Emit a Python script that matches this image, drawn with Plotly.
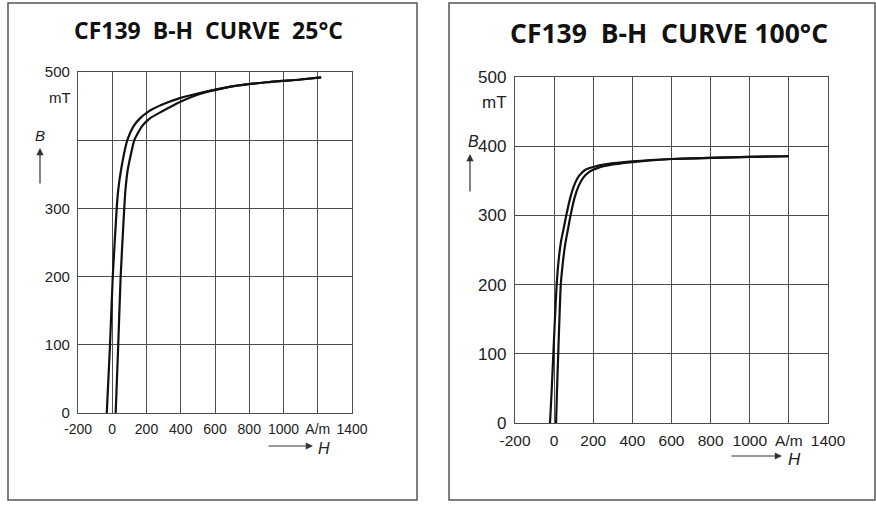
import plotly.graph_objects as go

W, H = 876, 505

# ---------------- data ----------------
# 25 °C loop: upper (left, descending) branch and lower (right, ascending) branch
H25_upper = [-32, -13, 3, 26, 35, 51, 88, 123, 162, 211, 289, 386, 542, 700, 900, 1100, 1220]
B25_upper = [0, 100, 200, 300, 327, 356, 400, 420, 432, 442, 452, 461, 471, 479, 485, 489, 492]
H25_lower = [20, 35, 49, 70, 77, 90, 129, 172, 220, 289, 386, 520, 700, 900, 1100, 1220]
B25_lower = [0, 100, 200, 300, 327, 356, 400, 420, 432, 442, 455, 468.5, 479, 485, 489, 492]

# 100 °C loop
H100_upper = [-21, -12, -4, 4, 13, 23, 35, 50, 62, 82, 102, 127, 160, 200, 269, 400, 600, 800, 1000, 1200]
B100_upper = [0, 50, 100, 150, 200, 235, 262, 283, 300, 325, 343, 357, 366, 370, 374, 378, 381.5, 383, 384.5, 385.5]
H100_lower = [10, 15, 21, 27, 34, 44, 56, 70, 84, 104, 126, 150, 180, 218, 300, 450, 600, 800, 1000, 1200]
B100_lower = [0, 50, 100, 150, 200, 230, 257, 279, 300, 325, 343, 355, 363, 368, 373.5, 378.5, 381.5, 383, 384.5, 385.5]

x_tickvals = [-200, 0, 200, 400, 600, 800, 1000, 1200, 1400]
x_ticktext = ["-200", "0", "200", "400", "600", "800", "1000", "A/m", "1400"]
y_tickvals = [0, 100, 200, 300, 400, 500]
y_ticktext_25 = ["0", "100", "200", "300", "", "500"]
y_ticktext_100 = ["0", "100", "200", "300", "400", "500"]

titles = ["CF139\u00a0\u00a0B-H\u00a0\u00a0CURVE\u00a0\u00a025°C",
          "CF139\u00a0\u00a0B-H\u00a0\u00a0CURVE\u00a0100°C"]


def px(x):
    return x / W


def py(y):
    return 1 - y / H


fig = go.Figure()

line_style = dict(color="#111111", width=2.2, shape="spline", smoothing=0.5)
fig.add_trace(go.Scatter(x=H25_upper, y=B25_upper, mode="lines", line=line_style,
                         xaxis="x", yaxis="y", showlegend=False, hoverinfo="skip"))
fig.add_trace(go.Scatter(x=H25_lower, y=B25_lower, mode="lines", line=line_style,
                         xaxis="x", yaxis="y", showlegend=False, hoverinfo="skip"))
fig.add_trace(go.Scatter(x=H100_upper, y=B100_upper, mode="lines", line=line_style,
                         xaxis="x2", yaxis="y2", showlegend=False, hoverinfo="skip"))
fig.add_trace(go.Scatter(x=H100_lower, y=B100_lower, mode="lines", line=line_style,
                         xaxis="x2", yaxis="y2", showlegend=False, hoverinfo="skip"))

grid = "#4d4d4d"
FONT = "Liberation Sans, Arial"


def xaxis(domain, size, anchor):
    return dict(domain=domain, range=[-200, 1400], tickvals=x_tickvals, ticktext=x_ticktext,
                showgrid=True, gridcolor=grid, gridwidth=1.3, zeroline=False,
                showline=True, linecolor=grid, linewidth=1.3, mirror=True,
                ticks="", tickfont=dict(family=FONT, size=size, color="#222222"),
                anchor=anchor, ticklabelstandoff=3, fixedrange=True)


def yaxis(domain, size, anchor, ticktext):
    return dict(domain=domain, range=[0, 500], tickvals=y_tickvals, ticktext=ticktext,
                showgrid=True, gridcolor=grid, gridwidth=1.3, zeroline=False,
                showline=True, linecolor=grid, linewidth=1.3, mirror=True,
                ticks="", tickfont=dict(family=FONT, size=size, color="#222222"),
                anchor=anchor, ticklabelstandoff=4, fixedrange=True)


fig.update_layout(
    width=W, height=H,
    margin=dict(l=0, r=0, t=0, b=0, autoexpand=False),
    paper_bgcolor="white", plot_bgcolor="white",
    xaxis=xaxis([px(78), px(352)], 14, "y"),
    yaxis=yaxis([py(413), py(72)], 15, "x", y_ticktext_25),
    xaxis2=xaxis([px(515), px(828)], 15.5, "y2"),
    yaxis2=yaxis([py(423), py(77)], 17, "x2", y_ticktext_100),
)

# outer frames
for (x0, x1) in [(8, 417), (449, 875)]:
    fig.add_shape(type="rect", xref="paper", yref="paper",
                  x0=px(x0), x1=px(x1), y0=py(500), y1=py(3),
                  line=dict(color="#555555", width=1.5), fillcolor="rgba(0,0,0,0)")

anns = []
# titles
anns.append(dict(text="<b>" + titles[0] + "</b>", x=px(208), y=py(30), xref="paper", yref="paper",
                 showarrow=False, xanchor="center", yanchor="middle",
                 font=dict(family="Open Sans", size=23, color="#111111")))
anns.append(dict(text="<b>" + titles[1] + "</b>", x=px(669), y=py(33), xref="paper", yref="paper",
                 showarrow=False, xanchor="center", yanchor="middle",
                 font=dict(family="Open Sans", size=26.5, color="#111111")))
# mT units
anns.append(dict(text="mT", x=px(73), y=py(98), xref="paper", yref="paper", showarrow=False,
                 xanchor="right", yanchor="middle",
                 font=dict(family=FONT, size=15, color="#222222")))
anns.append(dict(text="mT", x=px(509), y=py(103), xref="paper", yref="paper", showarrow=False,
                 xanchor="right", yanchor="middle",
                 font=dict(family=FONT, size=17, color="#222222")))
# B labels
anns.append(dict(text="<i>B</i>", x=px(40), y=py(135), xref="paper", yref="paper", showarrow=False,
                 xanchor="center", yanchor="middle",
                 font=dict(family=FONT, size=15, color="#222222")))
anns.append(dict(text="<i>B</i>", x=px(481), y=py(141), xref="paper", yref="paper", showarrow=False,
                 xanchor="right", yanchor="middle",
                 font=dict(family=FONT, size=16, color="#222222")))
# B arrows
anns.append(dict(text="", x=px(40), y=py(148), xref="paper", yref="paper", showarrow=True,
                 ax=0, ay=37, arrowhead=2, arrowsize=1.2, arrowwidth=1.2, arrowcolor="#333333"))
anns.append(dict(text="", x=px(470), y=py(154), xref="paper", yref="paper", showarrow=True,
                 ax=0, ay=39, arrowhead=2, arrowsize=1.2, arrowwidth=1.2, arrowcolor="#333333"))
# H arrows
anns.append(dict(text="", x=px(313), y=py(446), xref="paper", yref="paper", showarrow=True,
                 ax=-46, ay=0, arrowhead=2, arrowsize=1.2, arrowwidth=1.2, arrowcolor="#333333"))
anns.append(dict(text="", x=px(782), y=py(456), xref="paper", yref="paper", showarrow=True,
                 ax=-52, ay=0, arrowhead=2, arrowsize=1.2, arrowwidth=1.2, arrowcolor="#333333"))
# H labels
anns.append(dict(text="<i>H</i>", x=px(316), y=py(448), xref="paper", yref="paper", showarrow=False,
                 xanchor="left", yanchor="middle",
                 font=dict(family=FONT, size=16, color="#222222")))
anns.append(dict(text="<i>H</i>", x=px(786), y=py(459), xref="paper", yref="paper", showarrow=False,
                 xanchor="left", yanchor="middle",
                 font=dict(family=FONT, size=17, color="#222222")))

fig.update_layout(annotations=anns)

fig.write_html("out.html")
